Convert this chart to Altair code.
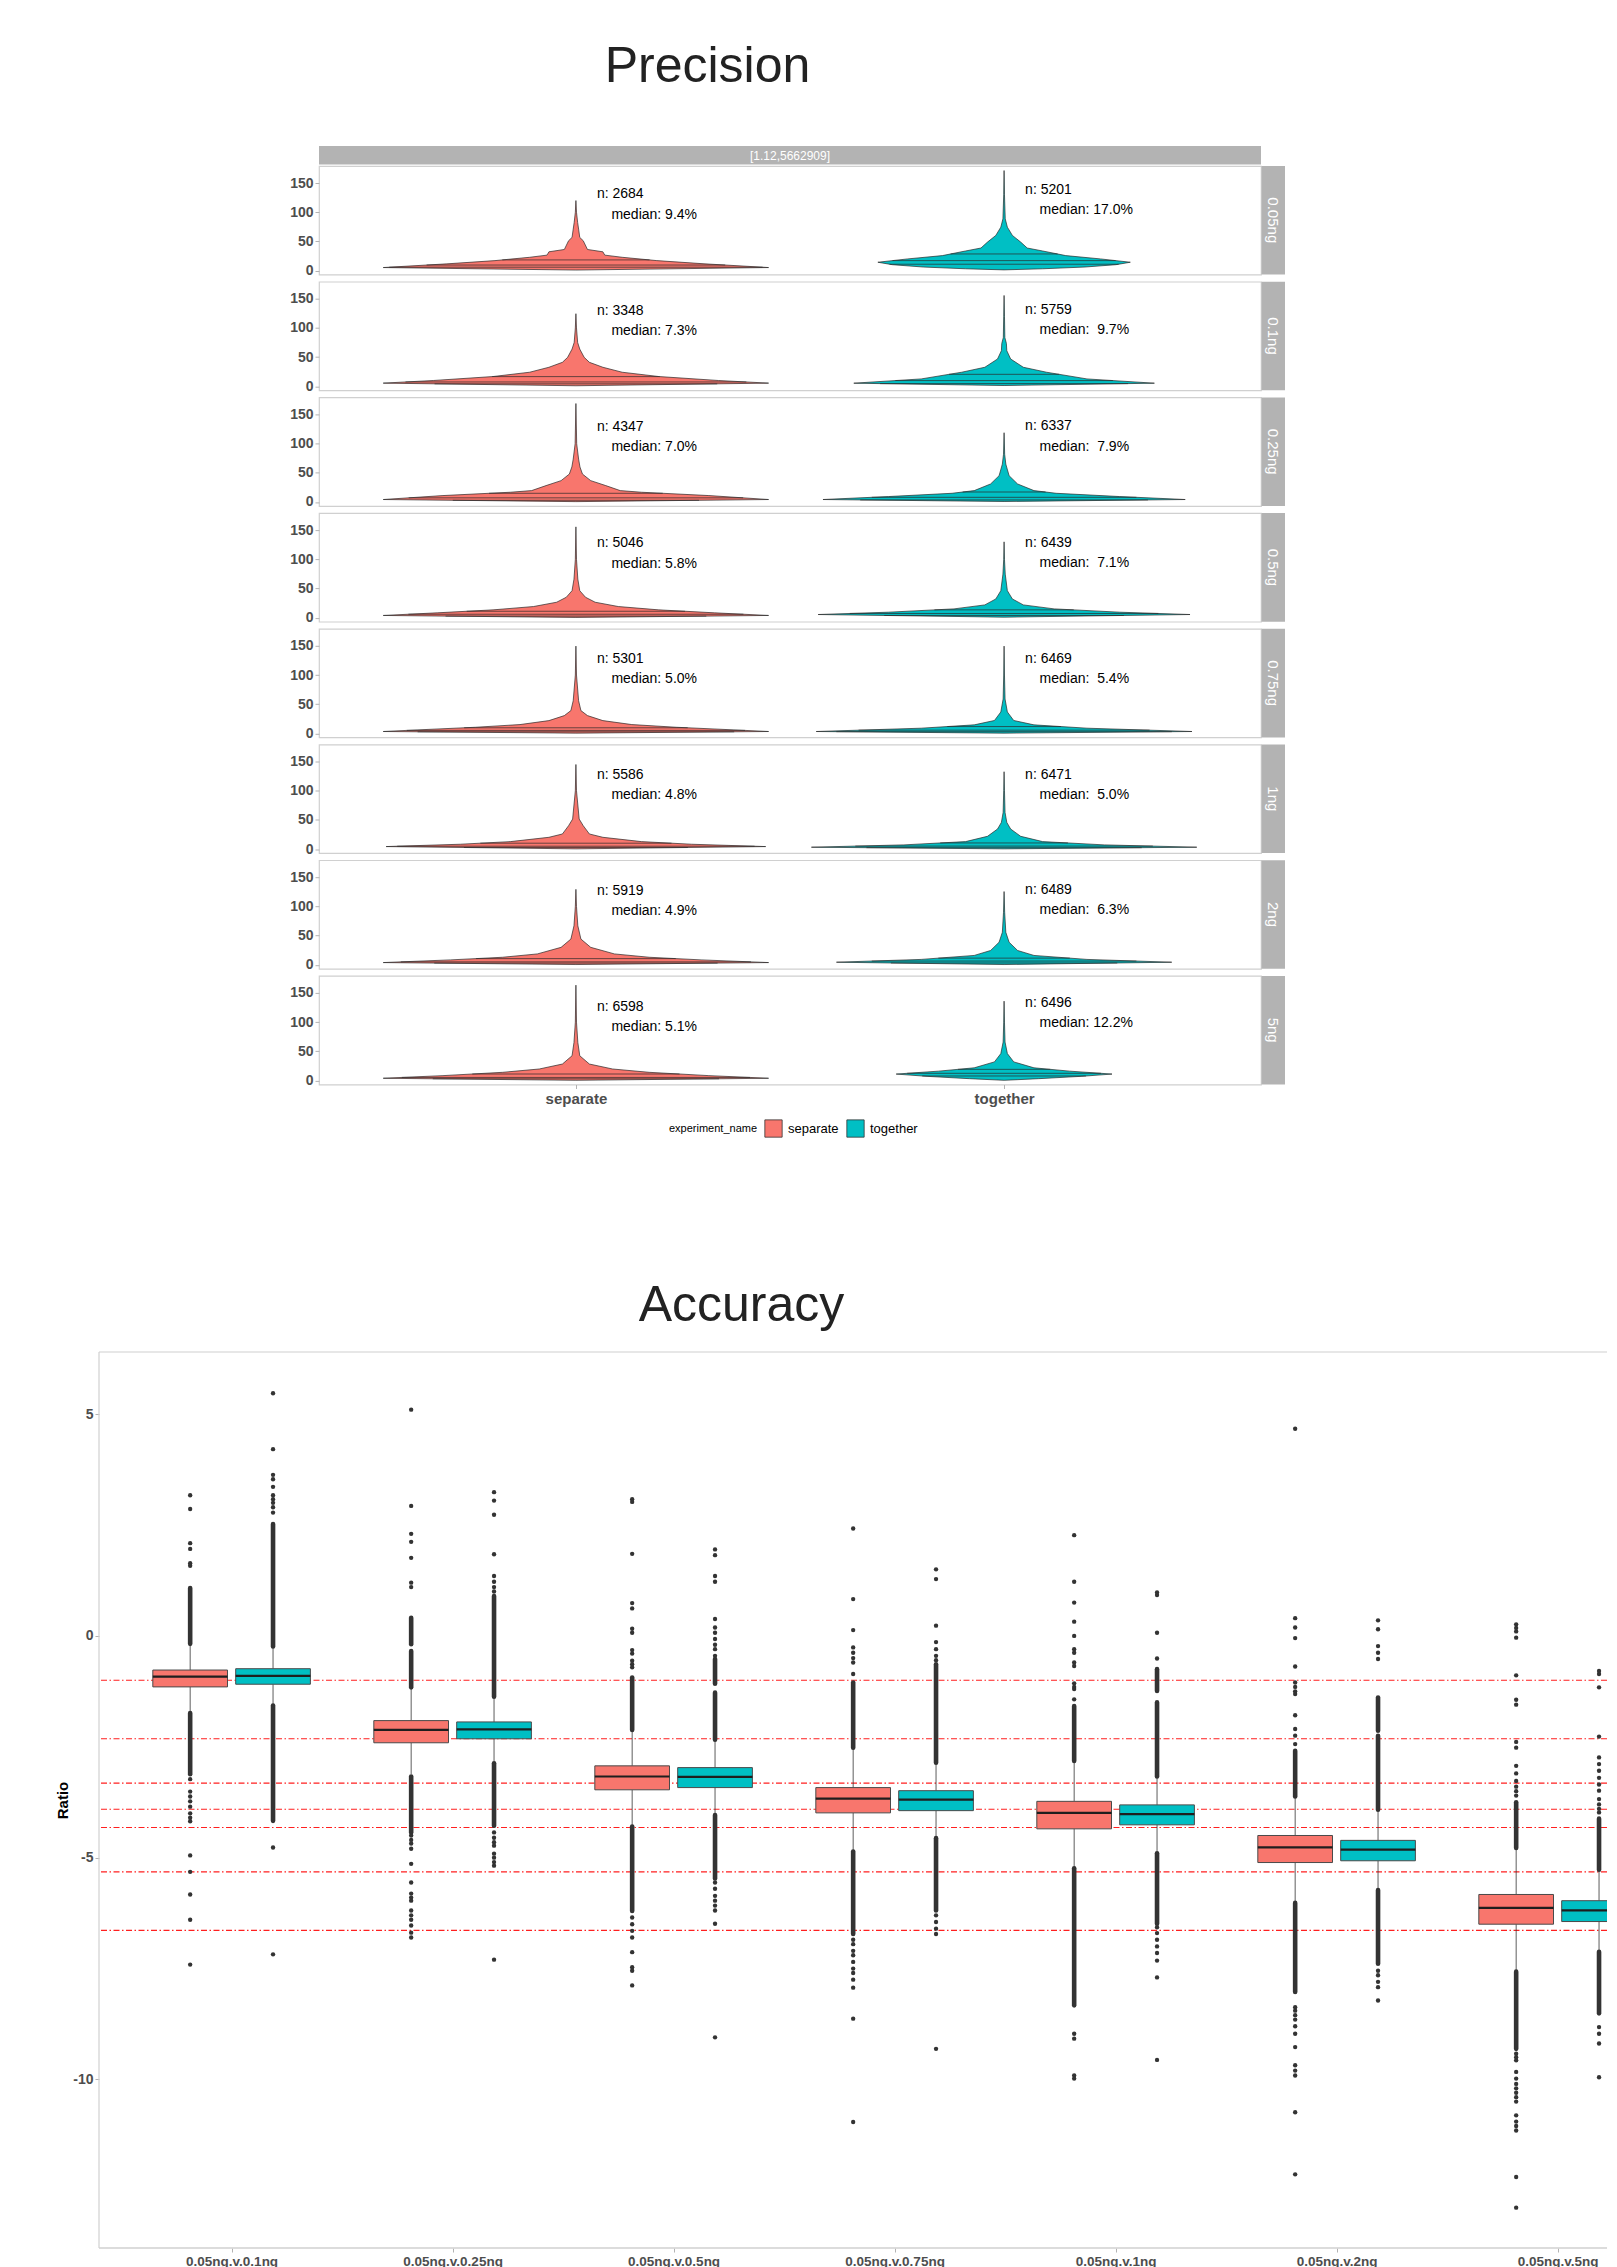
import json
import altair as alt
import pandas as pd
import numpy as np

FONT = "Liberation Sans"
FILL_SEP = "#F8766D"
FILL_TOG = "#00BFC4"
INK = "#333333"
AXIS_TXT = "#4D4D4D"
TICK = "#B3B3B3"
FRAME = "#D0D0D0"

# ---------------------------------------------------------------- Precision data
doses = ["0.05ng", "0.1ng", "0.25ng", "0.5ng", "0.75ng", "1ng", "2ng", "5ng"]
groups = ["separate", "together"]
top_strip_label = "[1.12,5662909]"

# violin outlines: value (CV %) and relative half-width (1 = widest violin)
sep_prof_v = [
    [0.8, 5.1, 11.4, 17.0, 22.7, 26.4, 32.1, 36.1, 51.1, 56.8, 71.0, 82.4, 100.0, 120.0],
    [0.8, 5.3, 9.8, 16.6, 24.0, 32.5, 41.0, 49.5, 63.7, 75.0, 100.0, 124.4],
    [0.5, 4.1, 10.9, 16.6, 19.4, 28.0, 36.5, 47.8, 60.0, 73.4, 100.0, 168.8],
    [0.3, 3.7, 8.2, 13.3, 19.0, 26.4, 34.9, 46.2, 66.0, 100.0, 155.7],
    [0.3, 3.1, 5.9, 10.4, 15.0, 21.8, 30.4, 39.0, 55.9, 100.0, 149.6],
    [0.3, 4.2, 8.2, 12.7, 20.1, 25.8, 40.0, 51.4, 100.0, 145.0],
    [0.3, 3.7, 8.3, 12.8, 18.5, 29.8, 44.0, 66.7, 100.0, 129.3],
    [0.2, 3.7, 8.2, 13.9, 19.6, 28.1, 42.3, 65.0, 100.0, 163.4],
]
sep_prof_w = [
    [0.0, 1.0, 0.67, 0.42, 0.24, 0.15, 0.14, 0.06, 0.038, 0.02, 0.014, 0.009, 0.003, 0.0],
    [0.0, 1.0, 0.74, 0.43, 0.24, 0.14, 0.07, 0.043, 0.02, 0.009, 0.003, 0.0],
    [0.0, 1.0, 0.69, 0.34, 0.23, 0.155, 0.077, 0.034, 0.021, 0.014, 0.004, 0.0],
    [0.0, 1.0, 0.72, 0.43, 0.22, 0.10, 0.05, 0.02, 0.01, 0.003, 0.0],
    [0.0, 1.0, 0.82, 0.52, 0.29, 0.14, 0.06, 0.026, 0.014, 0.003, 0.0],
    [0.0, 0.985, 0.60, 0.34, 0.14, 0.07, 0.038, 0.017, 0.003, 0.0],
    [0.0, 1.0, 0.65, 0.38, 0.20, 0.077, 0.026, 0.01, 0.003, 0.0],
    [0.0, 1.0, 0.69, 0.38, 0.19, 0.07, 0.02, 0.01, 0.003, 0.0],
]
tog_prof_v = [
    [1.1, 3.0, 6.0, 10.0, 14.2, 19.9, 25.6, 33.5, 38.6, 48.8, 60.2, 74.4, 88.6, 130.0, 171.5],
    [1.2, 5.2, 12.5, 24.0, 32.5, 46.7, 61.0, 73.3, 83.5, 120.0, 155.7],
    [0.7, 4.1, 9.2, 14.8, 19.4, 30.8, 45.0, 64.8, 81.8, 118.7],
    [0.8, 5.3, 9.3, 15.0, 21.8, 32.0, 46.2, 74.6, 100.0, 130.0],
    [0.3, 3.1, 8.8, 14.5, 22.0, 36.6, 58.8, 100.0, 149.6],
    [0.3, 3.1, 7.1, 12.7, 21.8, 34.3, 45.7, 62.7, 100.0, 132.6],
    [0.3, 4.3, 9.1, 15.9, 24.4, 38.6, 55.6, 90.0, 125.5],
    [0.2, 3.0, 7.0, 10.9, 15.9, 21.6, 31.8, 46.0, 65.8, 100.0, 136.0],
]
tog_prof_w = [
    [0.0, 0.2, 0.42, 0.58, 0.655, 0.5, 0.32, 0.2, 0.12, 0.086, 0.043, 0.017, 0.006, 0.002, 0.0],
    [0.0, 0.78, 0.43, 0.22, 0.10, 0.034, 0.014, 0.012, 0.004, 0.002, 0.0],
    [0.0, 0.94, 0.60, 0.27, 0.155, 0.07, 0.026, 0.009, 0.003, 0.0],
    [0.0, 0.965, 0.60, 0.26, 0.10, 0.043, 0.017, 0.006, 0.002, 0.0],
    [0.0, 0.975, 0.43, 0.155, 0.05, 0.017, 0.005, 0.002, 0.0],
    [0.0, 1.0, 0.52, 0.20, 0.086, 0.034, 0.014, 0.005, 0.002, 0.0],
    [0.0, 0.87, 0.43, 0.155, 0.07, 0.026, 0.009, 0.003, 0.0],
    [0.0, 0.18, 0.40, 0.56, 0.34, 0.155, 0.05, 0.017, 0.005, 0.002, 0.0],
]

# drawn quantile lines (25 / 50 / 75 %)
sep_q25 = [5.7, 4.1, 2.8, 2.6, 2.6, 2.6, 2.8, 2.8]
sep_q50 = [9.4, 7.3, 7.0, 5.8, 5.0, 4.8, 4.9, 5.1]
sep_q75 = [18.2, 16.5, 14.8, 10.9, 9.5, 10.0, 10.5, 11.0]
tog_q25 = [10.8, 4.5, 3.4, 3.7, 2.8, 2.3, 3.0, 7.6]
tog_q50 = [17.0, 9.7, 7.9, 7.1, 5.4, 5.0, 6.3, 12.2]
tog_q75 = [28.4, 20.4, 17.0, 13.3, 11.6, 10.4, 11.3, 19.0]

# annotations
sep_n = [2684, 3348, 4347, 5046, 5301, 5586, 5919, 6598]
tog_n = [5201, 5759, 6337, 6439, 6469, 6471, 6489, 6496]
sep_median_txt = ["9.4%", "7.3%", "7.0%", "5.8%", "5.0%", "4.8%", "4.9%", "5.1%"]
tog_median_txt = ["17.0%", "\u00a09.7%", "\u00a07.9%", "\u00a07.1%", "\u00a05.4%", "\u00a05.0%", "\u00a06.3%", "12.2%"]
sep_n_y = [130.8, 129.0, 128.5, 127.5, 127.5, 127.0, 127.0, 126.8]
tog_n_y = [138.1, 131.3, 129.7, 128.5, 127.5, 127.0, 128.5, 132.6]
sep_med_y = [96.0, 94.2, 93.7, 92.7, 92.7, 92.2, 92.2, 92.0]
tog_med_y = [103.3, 96.5, 94.9, 93.7, 92.7, 92.2, 93.7, 97.8]

# ---------------------------------------------------------------- Accuracy data
comparisons = ["0.05ng.v.0.1ng", "0.05ng.v.0.25ng", "0.05ng.v.0.5ng", "0.05ng.v.0.75ng",
               "0.05ng.v.1ng", "0.05ng.v.2ng", "0.05ng.v.5ng"]
expected_ratio = [-1.0, -2.32, -3.32, -3.91, -4.32, -5.32, -6.64]

sep_q1 = [-1.15, -2.41, -3.47, -3.99, -4.35, -5.11, -6.50]
sep_med = [-0.92, -2.12, -3.17, -3.67, -3.99, -4.77, -6.13]
sep_q3 = [-0.77, -1.91, -2.93, -3.42, -3.73, -4.50, -5.83]
sep_wlo = [-1.72, -3.12, -4.28, -4.84, -5.22, -6.00, -7.55]
sep_whi = [-0.22, -1.20, -2.14, -2.53, -2.84, -3.64, -4.80]
tog_q1 = [-1.09, -2.32, -3.42, -3.94, -4.26, -5.07, -6.44]
tog_med = [-0.90, -2.11, -3.18, -3.69, -4.02, -4.82, -6.19]
tog_q3 = [-0.74, -1.94, -2.97, -3.49, -3.81, -4.61, -5.97]
tog_wlo = [-1.55, -2.85, -4.02, -4.54, -4.88, -5.71, -7.10]
tog_whi = [-0.26, -1.39, -2.36, -2.88, -3.19, -3.94, -5.29]

sep_out_points = [
    [1.58, 1.64, 1.96, 2.09, 2.86, 3.17, -3.23, -3.51, -3.62, -3.73, -3.85, -4.0, -4.1, -4.18,
     -4.95, -5.32, -5.83, -6.4, -7.41],
    [1.1, 1.2, 1.76, 2.12, 2.3, 2.93, 5.1, -4.5, -4.6, -4.68, -4.8, -5.14, -5.56, -5.81, -5.9,
     -5.97, -6.19, -6.3, -6.4, -6.53, -6.69, -6.8],
    [3.08, 3.02, 1.85, 0.74, 0.62, 0.16, 0.07, -0.32, -0.4, -0.56, -0.64, -0.71, -6.35, -6.5,
     -6.65, -6.8, -7.13, -7.47, -7.55, -7.88],
    [2.42, 0.83, 0.13, -0.26, -0.38, -0.5, -0.6, -0.86, -6.85, -6.95, -7.1, -7.2, -7.35, -7.5,
     -7.6, -7.75, -7.93, -8.63, -10.96],
    [2.27, 1.22, 0.75, 0.32, 0.0, -0.3, -0.38, -0.6, -0.68, -1.07, -1.15, -1.2, -1.43, -8.97,
     -9.08, -9.91, -9.98],
    [4.67, 0.4, 0.19, -0.05, -0.69, -1.05, -1.15, -1.25, -1.31, -1.79, -2.1, -2.25, -2.44,
     -8.37, -8.45, -8.55, -8.65, -8.8, -8.97, -9.27, -9.68, -9.8, -9.91, -10.74, -12.14],
    [0.26, 0.18, 0.1, -0.04, -0.89, -1.44, -1.55, -2.39, -2.52, -2.93, -3.1, -3.27, -3.4, -3.5,
     -3.6, -9.42, -9.5, -9.57, -9.83, -9.98, -10.1, -10.2, -10.3, -10.4, -10.5, -10.81, -10.95,
     -11.05, -11.15, -12.2, -12.89],
]
sep_out_runs = [
    [(-0.18, 1.08), (-3.12, -1.74)],
    [(-1.16, -0.34), (-0.19, 0.41), (-4.43, -3.17)],
    [(-2.12, -0.94), (-6.2, -4.3)],
    [(-2.52, -1.05), (-6.72, -4.86)],
    [(-2.82, -1.58), (-8.33, -5.24)],
    [(-3.62, -2.59), (-8.03, -6.02)],
    [(-4.78, -3.75), (-9.31, -7.57)],
]
tog_out_points = [
    [2.78, 2.9, 3.0, 3.08, 3.17, 3.36, 3.53, 3.63, 4.21, 5.47, -4.77, -7.18],
    [1.0, 1.1, 1.22, 1.35, 1.84, 2.73, 3.05, 3.24, -4.43, -4.55, -4.65, -4.73, -4.91, -5.0,
     -5.1, -5.18, -7.3],
    [1.95, 1.82, 1.35, 1.22, 0.38, 0.19, 0.07, -0.07, -0.2, -0.3, -0.45, -5.56, -5.7, -5.86,
     -5.97, -6.08, -6.19, -6.49, -9.05],
    [1.5, 1.28, 0.23, -0.14, -0.3, -0.45, -0.55, -6.3, -6.45, -6.6, -6.72, -9.31],
    [0.98, 0.92, 0.07, -0.51, -6.57, -6.7, -6.85, -7.0, -7.15, -7.32, -7.7, -9.56],
    [0.35, 0.15, -0.23, -0.38, -0.52, -7.55, -7.65, -7.8, -7.92, -8.22],
    [-0.79, -0.86, -1.16, -2.27, -2.74, -2.89, -3.04, -3.2, -3.35, -3.49, -3.68, -3.8, -3.9,
     -3.98, -8.82, -8.97, -9.19, -9.95],
]
tog_out_runs = [
    [(-0.24, 2.52), (-4.17, -1.57)],
    [(-1.37, 0.9), (-4.28, -2.87)],
    [(-2.34, -1.28), (-1.08, -0.52), (-5.47, -4.04)],
    [(-2.86, -0.64), (-6.19, -4.56)],
    [(-1.24, -0.75), (-3.17, -1.5), (-6.49, -4.9)],
    [(-2.14, -1.39), (-3.92, -2.25), (-7.39, -5.73)],
    [(-5.27, -4.12), (-8.51, -7.12)],
]

# ---------------------------------------------------------------- layout constants
PW, PH = 942, 108.6          # precision panel
P_SPACING = 1.7
STRIP_W = 24
AW, AH = 1508, 896           # accuracy panel (runs off the page on the right)
CAT_STEP = 221.0             # px per comparison
SPACER_W = 190
T1_H, T2_H = 137, 210.5
HALF_MAX = 0.45
DODGE = 0.1875
BOX_HALF = 0.169

fill_scale = alt.Scale(domain=groups, range=[FILL_SEP, FILL_TOG])
px = alt.Scale(domain=[0.4, 2.6], nice=False, zero=False)
py = alt.Scale(domain=[-7.0, 179.3], nice=False, zero=False)

y_axis_p = alt.Axis(values=[0, 50, 100, 150], title="", grid=False, domain=False,
                    labelFont=FONT, labelFontSize=14, labelFontWeight="bold",
                    labelColor=AXIS_TXT, tickColor=TICK, tickSize=4, labelPadding=2)
x_axis_p = alt.Axis(values=[1, 2], labelExpr=json.dumps(groups) + "[datum.value - 1]",
                    title="", grid=False, domain=False, labelFlush=False,
                    labelFont=FONT, labelFontSize=15, labelFontWeight="bold",
                    labelColor=AXIS_TXT, tickColor=TICK, tickSize=4, labelPadding=3)
legend_p = alt.Legend(orient="none", legendX=350, legendY=143, direction="horizontal",
                      title="experiment_name", titleOrient="left", titleFont=FONT,
                      titleFontSize=11, titleFontWeight="normal", titleColor="black",
                      titlePadding=6, titleBaseline="middle",
                      labelFont=FONT, labelFontSize=13, labelColor="black", labelOffset=5,
                      columnPadding=6, symbolType="square", symbolSize=300,
                      symbolStrokeColor=INK, symbolStrokeWidth=0.8, symbolOpacity=1)


def precision_panel(k):
    last = k == len(doses) - 1
    xa = x_axis_p if last else None
    lg = legend_p if last else None
    rows, qrows, trows = [], [], []
    for gi, g in enumerate(groups):
        pv = (sep_prof_v if gi == 0 else tog_prof_v)[k]
        pw = (sep_prof_w if gi == 0 else tog_prof_w)[k]
        for v, w in zip(pv, pw):
            rows.append({"group": g, "pos": gi + 1, "value": v, "rel": w})
        qs = [(sep_q25, sep_q50, sep_q75), (tog_q25, tog_q50, tog_q75)][gi]
        for qa in qs:
            q = qa[k]
            qrows.append({"group": g, "pos": gi + 1, "q": q,
                          "rel": float(np.interp(q, pv, pw))})
        trows.append({
            "pos": gi + 1,
            "ny": (sep_n_y if gi == 0 else tog_n_y)[k],
            "my": (sep_med_y if gi == 0 else tog_med_y)[k],
            "nt": "n: %d" % (sep_n if gi == 0 else tog_n)[k],
            "mt": "median: " + (sep_median_txt if gi == 0 else tog_median_txt)[k],
        })
    calc = dict(xl=f"datum.pos - {HALF_MAX} * datum.rel", xr=f"datum.pos + {HALF_MAX} * datum.rel")

    area = alt.Chart(pd.DataFrame(rows)).transform_calculate(**calc).mark_area(
        orient="horizontal", stroke="#2a2a2a", strokeWidth=0.7, strokeJoin="round"
    ).encode(
        y=alt.Y("value:Q", scale=py, axis=y_axis_p),
        x=alt.X("xl:Q", scale=px, axis=xa),
        x2="xr:Q",
        fill=alt.Fill("group:N", scale=fill_scale, legend=lg),
    )
    qlines = alt.Chart(pd.DataFrame(qrows)).transform_calculate(**calc).mark_rule(
        color="#2a2a2a", strokeWidth=0.7
    ).encode(
        y=alt.Y("q:Q", scale=py, axis=y_axis_p),
        x=alt.X("xl:Q", scale=px, axis=xa),
        x2="xr:Q",
    )
    tdf = pd.DataFrame(trows)
    ntext = alt.Chart(tdf).mark_text(align="left", baseline="middle", dx=21, font=FONT,
                                     fontSize=14, color="black").encode(
        x=alt.X("pos:Q", scale=px, axis=xa), y=alt.Y("ny:Q", scale=py, axis=y_axis_p), text="nt:N")
    mtext = alt.Chart(tdf).mark_text(align="left", baseline="middle", dx=35.5, font=FONT,
                                     fontSize=14, color="black").encode(
        x=alt.X("pos:Q", scale=px, axis=xa), y=alt.Y("my:Q", scale=py, axis=y_axis_p), text="mt:N")
    sdf = pd.DataFrame({"dose": [doses[k]]})
    strip = alt.Chart(sdf).mark_rect(color="#B3B3B3").encode(
        x=alt.value(PW + 0.5), x2=alt.value(PW + STRIP_W), y=alt.value(0), y2=alt.value(PH))
    strip_txt = alt.Chart(sdf).mark_text(angle=90, color="white", font=FONT, fontSize=15,
                                         align="center", baseline="middle").encode(
        x=alt.value(PW + STRIP_W / 2), y=alt.value(PH / 2), text="dose:N")
    layers = [area, qlines, ntext, mtext, strip, strip_txt]
    if k == 0:
        tdf2 = pd.DataFrame({"t": [top_strip_label]})
        layers.append(alt.Chart(tdf2).mark_rect(color="#B3B3B3").encode(
            x=alt.value(0), x2=alt.value(PW), y=alt.value(-20), y2=alt.value(-1.5)))
        layers.append(alt.Chart(tdf2).mark_text(color="white", font=FONT, fontSize=12,
                                                align="center", baseline="middle").encode(
            x=alt.value(PW / 2), y=alt.value(-10.5), text="t:N"))
    return alt.layer(*layers).properties(width=PW, height=PH)


prec_block = alt.vconcat(*[precision_panel(k) for k in range(len(doses))],
                         spacing=P_SPACING).resolve_legend(fill="independent")

spacer = alt.Chart(pd.DataFrame({"z": [0]})).mark_point(opacity=0).encode(
    x=alt.value(0), y=alt.value(0)
).properties(width=SPACER_W, height=10, view=alt.ViewBackground(strokeOpacity=0))

prec_row = alt.hconcat(spacer, prec_block, spacing=0).resolve_legend(fill="independent")

title1 = alt.Chart(pd.DataFrame({"t": ["Precision"]})).mark_text(
    font=FONT, fontSize=50, color="#222222", align="center", baseline="alphabetic"
).encode(text="t:N", x=alt.value(608.5), y=alt.value(74)).properties(
    width=AW, height=T1_H, view=alt.ViewBackground(strokeOpacity=0))

title2 = alt.Chart(pd.DataFrame({"t": ["Accuracy"]})).mark_text(
    font=FONT, fontSize=50, color="#222222", align="center", baseline="alphabetic"
).encode(text="t:N", x=alt.value(642.5), y=alt.value(181)).properties(
    width=AW, height=T2_H, view=alt.ViewBackground(strokeOpacity=0))

# ---------------------------------------------------------------- Accuracy chart
ax = alt.Scale(domain=[0.4, 0.4 + AW / CAT_STEP], nice=False, zero=False)
ay = alt.Scale(domain=[-13.8, 6.4], nice=False, zero=False)
y_axis_a = alt.Axis(values=[-10, -5, 0, 5], labelExpr="'' + datum.value",
                    title="Ratio", titleFont=FONT, titleFontSize=15,
                    titleFontWeight="bold", titleColor="black", titlePadding=2.5, grid=False,
                    domain=False, labelFont=FONT, labelFontSize=14, labelFontWeight="bold",
                    labelColor=AXIS_TXT, tickColor=TICK, tickSize=4, labelPadding=2)
x_axis_a = alt.Axis(values=list(range(1, len(comparisons) + 1)),
                    labelExpr=json.dumps(comparisons) + "[datum.value - 1]", title="",
                    grid=False, domain=False, labelFlush=False, labelFont=FONT,
                    labelFontSize=13.5, labelFontWeight="bold", labelColor=AXIS_TXT,
                    tickColor=TICK, tickSize=4, labelPadding=2)

box_rows, pt_rows, run_rows = [], [], []
for i in range(len(comparisons)):
    for gi, g in enumerate(groups):
        s = gi == 0
        box_rows.append({"idx": i + 1, "group": g,
                         "q1": (sep_q1 if s else tog_q1)[i], "med": (sep_med if s else tog_med)[i],
                         "q3": (sep_q3 if s else tog_q3)[i], "wlo": (sep_wlo if s else tog_wlo)[i],
                         "whi": (sep_whi if s else tog_whi)[i]})
        for v in (sep_out_points if s else tog_out_points)[i]:
            pt_rows.append({"idx": i + 1, "group": g, "v": v})
        for lo, hi in (sep_out_runs if s else tog_out_runs)[i]:
            run_rows.append({"idx": i + 1, "group": g, "lo": lo, "hi": hi})

pos_expr = f"datum.idx + (datum.group == 'separate' ? {-DODGE} : {DODGE})"
box_df = pd.DataFrame(box_rows)


def acc_base(df):
    return alt.Chart(df).transform_calculate(pos=pos_expr).transform_calculate(
        xl=f"datum.pos - {BOX_HALF}", xr=f"datum.pos + {BOX_HALF}")


def X(f):
    return alt.X(f, scale=ax, axis=x_axis_a)


def Y(f):
    return alt.Y(f, scale=ay, axis=y_axis_a)


ref_lines = alt.Chart(pd.DataFrame({"ratio": expected_ratio})).mark_rule(
    color="#FF1F1F", strokeDash=[6, 2.5, 1.5, 2.5], strokeWidth=1.1, clip=True
).encode(y=Y("ratio:Q"))
runs = acc_base(pd.DataFrame(run_rows)).mark_rule(
    color=INK, strokeWidth=4.6, strokeCap="round", clip=True).encode(
    x=X("pos:Q"), y=Y("lo:Q"), y2="hi:Q")
pts = acc_base(pd.DataFrame(pt_rows)).mark_circle(color=INK, size=19, opacity=1, clip=True).encode(
    x=X("pos:Q"), y=Y("v:Q"))
wh_lo = acc_base(box_df).mark_rule(color=INK, strokeWidth=0.8, clip=True).encode(
    x=X("pos:Q"), y=Y("wlo:Q"), y2="q1:Q")
wh_hi = acc_base(box_df).mark_rule(color=INK, strokeWidth=0.8, clip=True).encode(
    x=X("pos:Q"), y=Y("q3:Q"), y2="whi:Q")
boxes = acc_base(box_df).mark_rect(stroke="#4a4a4a", strokeWidth=1.0, clip=True).encode(
    x=X("xl:Q"), x2="xr:Q", y=Y("q1:Q"), y2="q3:Q",
    fill=alt.Fill("group:N", scale=fill_scale, legend=None))
medians = acc_base(box_df).mark_rule(color="#1e1e1e", strokeWidth=2.2, clip=True).encode(
    x=X("xl:Q"), x2="xr:Q", y=Y("med:Q"))

# panel frame (top, left, bottom; the right edge lies beyond the page)
fdf = pd.DataFrame({"f": [0]})
frame_top = alt.Chart(fdf).mark_rule(color=FRAME, strokeWidth=1.2).encode(
    x=alt.value(0), x2=alt.value(AW), y=alt.value(0))
frame_left = alt.Chart(fdf).mark_rule(color=FRAME, strokeWidth=1.2).encode(
    x=alt.value(0), y=alt.value(0), y2=alt.value(AH))
frame_bottom = alt.Chart(fdf).mark_rule(color=FRAME, strokeWidth=1.6).encode(
    x=alt.value(0), x2=alt.value(AW), y=alt.value(AH))

acc = alt.layer(ref_lines, runs, pts, wh_lo, wh_hi, boxes, medians,
                frame_top, frame_left, frame_bottom).properties(
    width=AW, height=AH, view=alt.ViewBackground(strokeOpacity=0))

chart = alt.vconcat(title1, prec_row, title2, acc, spacing=0).resolve_legend(
    fill="independent"
).properties(
    padding={"left": 47, "top": 0, "right": 0, "bottom": 0}
).configure(font=FONT).configure_view(stroke=FRAME, strokeWidth=1.2)

chart.save("out.html", embed_options={"renderer": "svg", "actions": False})
